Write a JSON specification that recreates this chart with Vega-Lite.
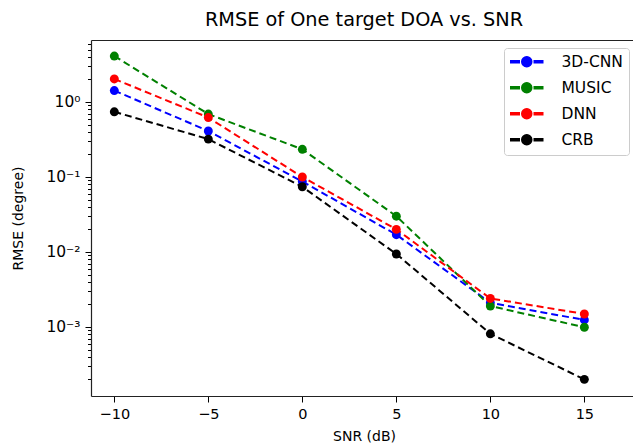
{
  "$schema": "https://vega.github.io/schema/vega-lite/v6.json",
  "width": 546,
  "height": 356,
  "autosize": "none",
  "padding": {"left": 91, "top": 40, "right": 0, "bottom": 50},
  "background": "white",
  "title": {"text": "RMSE of One target DOA vs. SNR", "font": "DejaVu Sans", "fontSize": 19.3, "fontWeight": "normal", "color": "#000000", "offset": 10},
  "data": {"values": [
    {"snr": -10, "method": "3D-CNN", "rmse": 1.42},
    {"snr": -5, "method": "3D-CNN", "rmse": 0.41},
    {"snr": 0, "method": "3D-CNN", "rmse": 0.087},
    {"snr": 5, "method": "3D-CNN", "rmse": 0.017},
    {"snr": 10, "method": "3D-CNN", "rmse": 0.0021},
    {"snr": 15, "method": "3D-CNN", "rmse": 0.00124},
    {"snr": -10, "method": "MUSIC", "rmse": 4.1},
    {"snr": -5, "method": "MUSIC", "rmse": 0.69},
    {"snr": 0, "method": "MUSIC", "rmse": 0.234},
    {"snr": 5, "method": "MUSIC", "rmse": 0.030},
    {"snr": 10, "method": "MUSIC", "rmse": 0.0019},
    {"snr": 15, "method": "MUSIC", "rmse": 0.00099},
    {"snr": -10, "method": "DNN", "rmse": 2.03},
    {"snr": -5, "method": "DNN", "rmse": 0.62},
    {"snr": 0, "method": "DNN", "rmse": 0.10},
    {"snr": 5, "method": "DNN", "rmse": 0.020},
    {"snr": 10, "method": "DNN", "rmse": 0.0024},
    {"snr": 15, "method": "DNN", "rmse": 0.00149},
    {"snr": -10, "method": "CRB", "rmse": 0.74},
    {"snr": -5, "method": "CRB", "rmse": 0.32},
    {"snr": 0, "method": "CRB", "rmse": 0.074},
    {"snr": 5, "method": "CRB", "rmse": 0.0094},
    {"snr": 10, "method": "CRB", "rmse": 0.00081},
    {"snr": 15, "method": "CRB", "rmse": 0.00020}
  ]},
  "encoding": {
    "color": {"field": "method", "type": "nominal",
      "scale": {"domain": ["3D-CNN", "MUSIC", "DNN", "CRB"], "range": ["#0000ff", "#008000", "#ff0000", "#000000"]},
      "legend": {"title": null, "orient": "top-right", "offset": 8,
        "symbolType": "M-3.2,-0.2H-1.5V0.2H-3.2Z M1.5,-0.2H3.2V0.2H1.5Z M1,0A1,1 0 1,1 -1,0A1,1 0 1,1 1,0Z",
        "symbolSize": 100, "symbolOffset": 9, "labelOffset": 27,
        "encode": {"symbols": {"update": {"fill": {"scale": "color", "field": "value"}, "stroke": {"value": "transparent"}}}}}}
  },
  "layer": [
    {
      "mark": {"type": "line", "strokeDash": [7, 4], "strokeWidth": 2},
      "encoding": {
        "detail": {"field": "method"},
        "x": {"field": "snr", "type": "quantitative",
          "scale": {"domain": [-11.24, 17.8], "nice": false, "zero": false},
          "axis": {"orient": "top", "title": null, "labels": false, "ticks": false, "grid": false, "domain": true, "domainColor": "#222222", "domainWidth": 1.2}},
        "y": {"field": "rmse", "type": "quantitative",
          "scale": {"type": "log", "domain": [0.00012, 6.71], "nice": false},
          "axis": {"orient": "left", "title": null, "labels": false, "domain": false, "grid": false, "tickSize": 3.5, "tickColor": "#000000",
            "values": [0.0002, 0.0003, 0.0004, 0.0005, 0.0006, 0.0007, 0.0008, 0.0009, 0.002, 0.003, 0.004, 0.005, 0.006, 0.007, 0.008, 0.009, 0.02, 0.03, 0.04, 0.05, 0.06, 0.07, 0.08, 0.09, 0.2, 0.3, 0.4, 0.5, 0.6, 0.7, 0.8, 0.9, 2, 3, 4, 5, 6]}}
      }
    },
    {
      "mark": {"type": "point", "filled": true, "opacity": 1, "size": 80, "shape": "circle"},
      "encoding": {
        "x": {"field": "snr", "type": "quantitative",
          "scale": {"domain": [-11.24, 17.8], "nice": false, "zero": false},
          "axis": {"orient": "bottom", "title": "SNR (dB)", "values": [-10, -5, 0, 5, 10, 15], "labelExpr": "replace(datum.label, '-', '\u2212')", "grid": false, "domain": true, "domainColor": "#222222", "domainWidth": 1.2, "tickSize": 6, "tickColor": "#000000", "labelPadding": 5, "titlePadding": 9}},
        "y": {"field": "rmse", "type": "quantitative",
          "scale": {"type": "log", "domain": [0.00012, 6.71], "nice": false},
          "axis": {"orient": "left", "title": "RMSE (degree)", "domain": true, "domainColor": "#222222", "domainWidth": 1.2, "grid": false, "tickSize": 6, "tickColor": "#000000", "labelPadding": 5, "titlePadding": 20, "labelFontSize": 15.5,
            "values": [1, 0.1, 0.01, 0.001],
            "labelExpr": "datum.value >= 0.5 ? '10\u2070' : datum.value >= 0.05 ? '10\u207b\u00b9' : datum.value >= 0.005 ? '10\u207b\u00b2' : '10\u207b\u00b3'"}}
      }
    }
  ],
  "resolve": {"axis": {"x": "independent", "y": "independent"}},
  "config": {
    "font": "DejaVu Sans",
    "view": {"stroke": null},
    "axis": {"labelFont": "DejaVu Sans", "labelFontSize": 14.5, "labelColor": "#000000", "titleFont": "DejaVu Sans", "titleFontSize": 14, "titleFontWeight": "normal", "titleColor": "#000000"},
    "legend": {"labelFont": "DejaVu Sans", "labelFontSize": 15.5, "labelColor": "#000000", "strokeColor": "#cccccc", "fillColor": "#ffffff", "cornerRadius": 3, "padding": 6, "rowPadding": 8}
  }
}
